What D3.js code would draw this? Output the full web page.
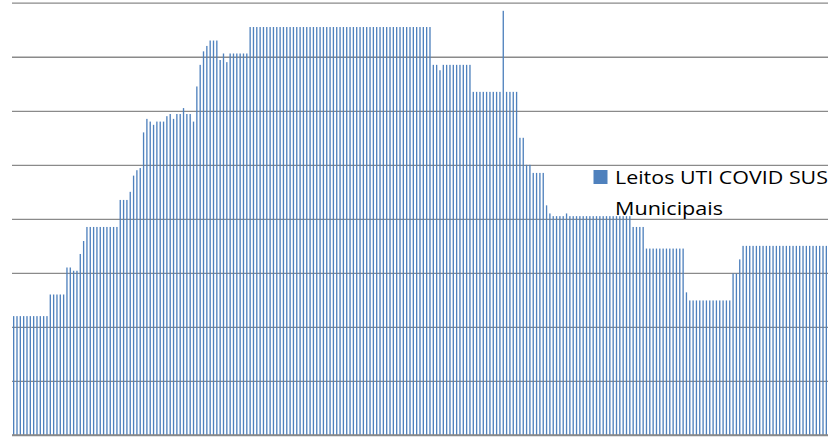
<!DOCTYPE html>
<html>
<head>
<meta charset="utf-8">
<script src="https://cdn.jsdelivr.net/npm/d3@7"></script>
<style>
  html, body { margin: 0; padding: 0; background: #fff; }
  svg { display: block; }
</style>
</head>
<body>
<svg id="chart" width="833" height="440"></svg>
<script>
// ---- data ----
const seriesName = "Leitos UTI COVID SUS Municipais";
const values = [
  22,22,22,22,22,22,22,22,22,22,22,
  26,26,26,26,26,
  31,31,30.4,30.4,33.5,35.9,
  38.5,38.5,38.5,38.5,38.5,38.5,38.5,38.5,38.5,38.5,
  43.5,43.5,43.5,45,48,49,49.4,
  56,58.5,58,57.4,58,58,58,59,59.4,58.5,59.4,59.4,60.5,59.4,59.4,58,
  64.5,68.5,71,72,73,73,73,69.4,70.6,69,
  70.6,70.6,70.6,70.6,70.6,70.6,
  75.5,75.5,75.5,75.5,75.5,75.5,75.5,75.5,75.5,75.5,
  75.5,75.5,75.5,75.5,75.5,75.5,75.5,75.5,75.5,75.5,
  75.5,75.5,75.5,75.5,75.5,75.5,75.5,75.5,75.5,75.5,
  75.5,75.5,75.5,75.5,75.5,75.5,75.5,75.5,75.5,75.5,
  75.5,75.5,75.5,75.5,75.5,75.5,75.5,75.5,75.5,75.5,
  75.5,75.5,75.5,75.5,75.5,
  68.5,68.5,67.5,68.5,68.5,68.5,68.5,68.5,68.5,68.5,68.5,68.5,
  63.5,63.5,63.5,63.5,63.5,63.5,63.5,63.5,63.5,78.5,63.5,63.5,63.5,63.5,
  55,55,50,50,48.5,48.5,48.5,48.5,42.5,41,
  40.5,40.5,40.5,40.5,41,
  40.5,40.5,40.5,40.5,40.5,40.5,40.5,40.5,40.5,40.5,
  40.5,40.5,40.5,40.5,40.5,40.5,40.5,40.5,40.5,
  38.5,38.5,38.5,38.5,
  34.5,34.5,34.5,34.5,34.5,34.5,34.5,34.5,34.5,34.5,34.5,34.5,
  26.4,
  24.9,24.9,24.9,24.9,24.9,24.9,24.9,24.9,24.9,24.9,24.9,24.9,24.9,
  29.9,29.9,32.5,
  35,35,35,35,35,35,35,35,35,35,35,35,35,
  35,35,35,35,35,35,35,35,35,35,35,35,35
];
const categories = values.map((_, i) => i + 1);
const yTicks = [0, 10, 20, 30, 40, 50, 60, 70, 80];

// ---- layout ----
const svg = d3.select("#chart");
const plot = { left: 12, right: 828, top: 2.7, bottom: 435 };
const barColor = "#4F81BD";
const gridColor = "#8A8A8A";

const x = d3.scaleBand().domain(categories).range([plot.left, plot.right]).paddingInner(0.6).paddingOuter(0.3);
const y = d3.scaleLinear().domain([0, 80]).range([plot.bottom, plot.top]);

// gridlines via axis
const grid = svg.append("g").attr("transform", `translate(${plot.left},0)`)
  .call(d3.axisLeft(y).tickValues(yTicks).tickSize(-(plot.right - plot.left)).tickFormat(""));
grid.select(".domain").remove();
grid.selectAll("line").attr("stroke", gridColor).attr("stroke-width", 1.3);

// bars
svg.append("g").selectAll("rect")
  .data(values)
  .join("rect")
  .attr("x", (d, i) => x(categories[i]))
  .attr("width", x.bandwidth())
  .attr("y", d => y(d))
  .attr("height", d => y(0) - y(d))
  .attr("fill", barColor);

// baseline on top
svg.append("line")
  .attr("x1", plot.left).attr("x2", plot.right)
  .attr("y1", y(0)).attr("y2", y(0))
  .attr("stroke", gridColor).attr("stroke-width", 1.3);

// legend
const lg = svg.append("g");
lg.append("rect").attr("x", 593.5).attr("y", 170).attr("width", 14).attr("height", 14).attr("fill", barColor);
const words = seriesName.split(" ");
const line1 = words.slice(0, 4).join(" ");
const line2 = words.slice(4).join(" ");
lg.append("text").attr("x", 615).attr("y", 184)
  .attr("font-family", "'Open Sans', Lato, sans-serif").attr("font-size", 19).attr("fill", "#000")
  .attr("textLength", 213).attr("lengthAdjust", "spacingAndGlyphs")
  .text(line1);
lg.append("text").attr("x", 615).attr("y", 214.5)
  .attr("font-family", "'Open Sans', Lato, sans-serif").attr("font-size", 19).attr("fill", "#000")
  .attr("textLength", 108).attr("lengthAdjust", "spacingAndGlyphs")
  .text(line2);
</script>
</body>
</html>
